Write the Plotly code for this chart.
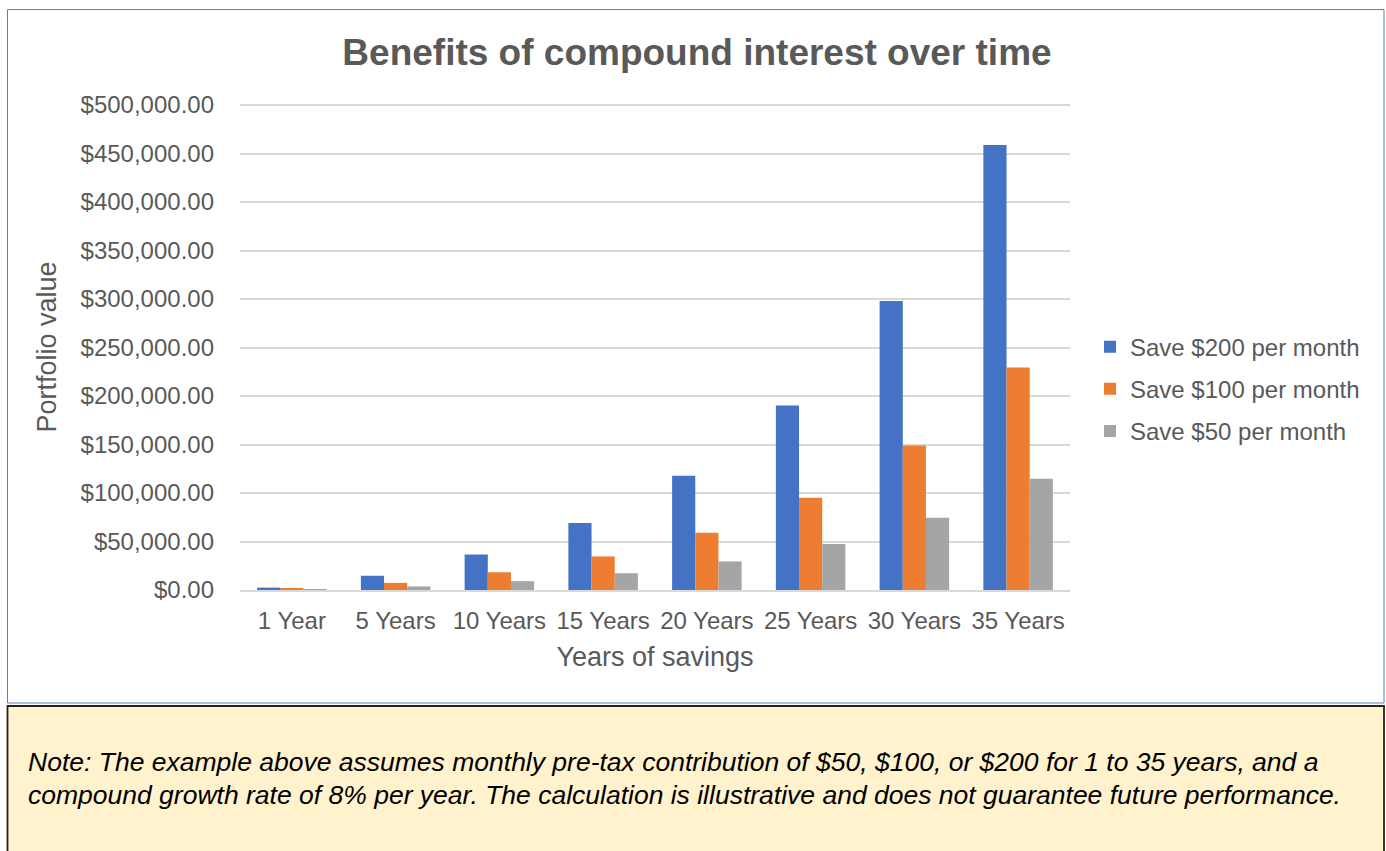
import plotly.graph_objects as go

categories = ["1 Year", "5 Years", "10 Years", "15 Years", "20 Years", "25 Years", "30 Years", "35 Years"]
save_200 = [2490, 14694, 36589, 69208, 117804, 190205, 298072, 458776]
save_100 = [1245, 7347, 18295, 34604, 58902, 95103, 149036, 229388]
save_50 = [622, 3674, 9147, 17302, 29451, 47551, 74518, 114694]
series_names = ["Save $200 per month", "Save $100 per month", "Save $50 per month"]
series_colors = ["#4472C4", "#ED7D31", "#A5A5A5"]

title_text = "Benefits of compound interest over time"
x_title = "Years of savings"
y_title = "Portfolio value"
note_lines = [
    "Note: The example above assumes monthly pre-tax contribution of $50, $100, or $200 for 1 to 35 years, and a",
    "compound growth rate of 8% per year. The calculation is illustrative and does not guarantee future performance.",
]

W, H = 1386, 851
L, R, B = 240, 1070, 590
PX_PER_UNIT = 485 / 500000
Y_MAX = 501100
T = B - Y_MAX * PX_PER_UNIT  # top of plot area in pixels


def px_x(p):
    return (p - L) / (R - L)


def px_y(p):
    return (B - p) / (B - T)


FONT = "Arial, 'Liberation Sans', sans-serif"
GREY = "#595959"

fig = go.Figure()
for i, (name, vals, col) in enumerate(zip(series_names, [save_200, save_100, save_50], series_colors)):
    fig.add_trace(go.Bar(x=categories, y=vals, name=name, marker=dict(color=col, line=dict(width=0)),
                         legendgroup=f"g{i}"))

fig.update_layout(
    width=W, height=H,
    margin=dict(l=L, r=W - R, t=T, b=H - B, autoexpand=False),
    paper_bgcolor="white", plot_bgcolor="white",
    barmode="group", bargap=0.33, bargroupgap=0,
    font=dict(family=FONT, color=GREY, size=24),
    title=dict(text=f"<b>{title_text}</b>", x=px_x(697), xref="paper", xanchor="center",
               y=1 - 52 / H, yref="container", yanchor="middle",
               font=dict(size=37, color=GREY, family=FONT)),
    legend=dict(x=px_x(1090), xanchor="left", y=px_y(389), yanchor="middle",
                font=dict(size=24, color=GREY), traceorder="grouped", tracegroupgap=8,
                bgcolor="rgba(0,0,0,0)"),
    showlegend=True,
)

fig.update_xaxes(
    showgrid=False, showline=True, linecolor="#D9D9D9", linewidth=1.5,
    ticks="", tickfont=dict(size=24, color=GREY), ticklabelstandoff=8,
    title=dict(text=x_title, font=dict(size=27, color=GREY), standoff=15),
    automargin=False,
)
fig.update_yaxes(
    range=[0, Y_MAX], tickmode="linear", tick0=0, dtick=50000,
    tickprefix="$", showtickprefix="all", tickformat=",.2f",
    showgrid=True, gridcolor="#D9D9D9", gridwidth=1.5, zeroline=False, showline=False,
    ticks="", tickfont=dict(size=24, color=GREY), ticklabelstandoff=25,
    title=dict(text=y_title, font=dict(size=27, color=GREY), standoff=16),
    automargin=False,
)

# chart outer border
fig.add_shape(type="rect", xref="paper", yref="paper",
              x0=px_x(7.5), x1=px_x(1384), y0=px_y(703), y1=px_y(9.5),
              line=dict(color="#5B7DB8", width=1), fillcolor="rgba(0,0,0,0)", layer="below")
# note box
fig.add_shape(type="rect", xref="paper", yref="paper",
              x0=px_x(7.5), x1=px_x(1384), y0=px_y(860), y1=px_y(706),
              line=dict(color="#222222", width=1.8), fillcolor="#FFF2CC", layer="below")

for line_text, ypix in zip(note_lines, [762, 795]):
    fig.add_annotation(text=f"<i>{line_text}</i>", xref="paper", yref="paper",
                       x=px_x(26), y=px_y(ypix), xanchor="left", yanchor="middle",
                       showarrow=False, font=dict(size=26.5, color="#000000", family=FONT))

fig.write_html("out.html", config={"displayModeBar": False},
               post_script="document.body.style.margin='0';document.body.style.overflow='hidden';")
